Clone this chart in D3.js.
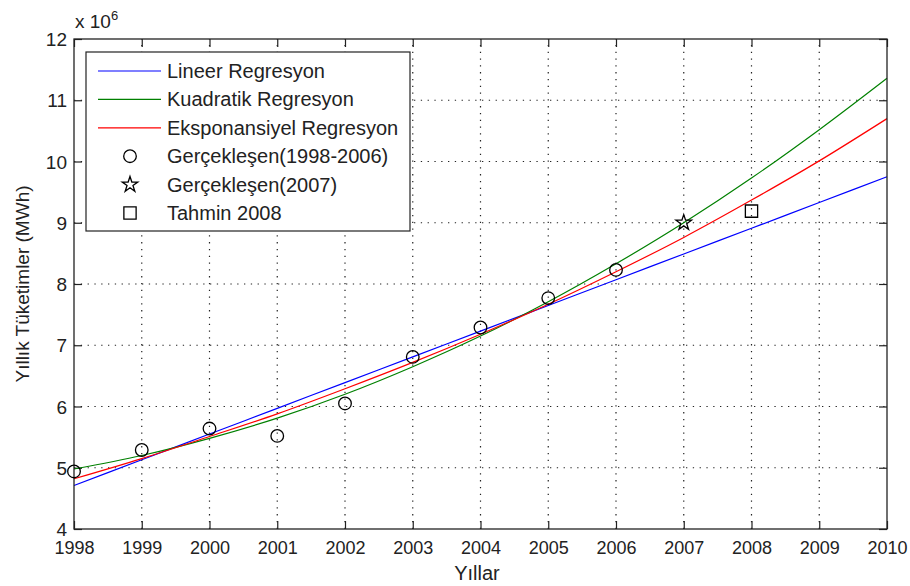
<!DOCTYPE html>
<html><head><meta charset="utf-8">
<script src="https://cdn.jsdelivr.net/npm/d3@7"></script>
<style>body{margin:0;background:#fff;} text{font-family:"Liberation Sans",Arial,sans-serif;fill:#222;}</style>
</head><body>
<svg id="c" width="910" height="586"></svg>
<script>
const years = [1998,1999,2000,2001,2002,2003,2004,2005,2006,2007,2008,2009,2010];
const linearFit = [4.71,5.13,5.55,5.97,6.39,6.81,7.23,7.65,8.07,8.49,8.91,9.33,9.75];
const quadFit   = [4.98,5.20,5.48,5.81,6.20,6.65,7.15,7.71,8.33,9.00,9.73,10.52,11.36];
const expFit    = [4.82,5.15,5.51,5.88,6.29,6.72,7.18,7.67,8.20,8.76,9.37,10.01,10.70];
const actualYears = [1998,1999,2000,2001,2002,2003,2004,2005,2006];
const actualVals  = [4.94,5.29,5.64,5.52,6.05,6.81,7.29,7.77,8.23];
const actual2007 = [2007, 9.00];
const forecast2008 = [2008, 9.19];
const yTicks = [4,5,6,7,8,9,10,11,12];
const legendLabels = ["Lineer Regresyon","Kuadratik Regresyon","Eksponansiyel Regresyon","Gerçekleşen(1998-2006)","Gerçekleşen(2007)","Tahmin 2008"];

const svg = d3.select("#c");
const L=74, R=887, T=39, B=529;
const x = d3.scaleLinear().domain([1998,2010]).range([L,R]);
const y = d3.scaleLinear().domain([4,12]).range([B,T]);
const fs = 18, fsText = 20;

// grid
const g = svg.append("g");
years.slice(1,-1).forEach(v=>{
  g.append("line").attr("x1",x(v)).attr("x2",x(v)).attr("y1",B).attr("y2",T)
   .attr("stroke","#222").attr("stroke-width",1.2).attr("stroke-dasharray","1.3,5.5");
});
yTicks.slice(1,-1).forEach(v=>{
  g.append("line").attr("x1",L).attr("x2",R).attr("y1",y(v)).attr("y2",y(v))
   .attr("stroke","#222").attr("stroke-width",1.2).attr("stroke-dasharray","1.3,5.5");
});

// axes
const xAx = d3.axisBottom(x).tickValues(years).tickFormat(d3.format("d")).tickSizeInner(-8).tickSizeOuter(0).tickPadding(12);
const yAx = d3.axisLeft(y).tickValues(yTicks).tickSizeInner(-8).tickSizeOuter(0).tickPadding(7);
const xg = svg.append("g").attr("transform",`translate(0,${B})`).call(xAx);
const yg = svg.append("g").attr("transform",`translate(${L},0)`).call(yAx);
const xt = svg.append("g").attr("transform",`translate(0,${T})`).call(d3.axisTop(x).tickValues(years).tickFormat("").tickSizeInner(-8).tickSizeOuter(0));
const yr = svg.append("g").attr("transform",`translate(${R},0)`).call(d3.axisRight(y).tickValues(yTicks).tickFormat("").tickSizeInner(-8).tickSizeOuter(0));
[xg,yg,xt,yr].forEach(a=>{a.select(".domain").remove(); a.selectAll("line").attr("stroke","#222").attr("stroke-width",1.2);
  a.selectAll("text").style("font-size",fs+"px").attr("fill","#222");});
yg.selectAll("text").style("font-size","19px").attr("dy","0.35em");

// fit lines
const line = d3.line().x((d,i)=>x(years[i])).y(d=>y(d)).curve(d3.curveMonotoneX);
const fits = [[linearFit,"#0000ff"],[quadFit,"#008000"],[expFit,"#ff0000"]];
fits.forEach(([arr,col])=>{
  svg.append("path").attr("d",line(arr)).attr("fill","none").attr("stroke",col).attr("stroke-width",1.2);
});

// box
svg.append("rect").attr("x",L).attr("y",T).attr("width",R-L).attr("height",B-T)
  .attr("fill","none").attr("stroke","#222").attr("stroke-width",1.3);

// markers
const star = d3.symbol().type(d3.symbolStar).size(75);
const sq = d3.symbol().type(d3.symbolSquare).size(150);
function circ(cx,cy){ svg.append("circle").attr("cx",cx).attr("cy",cy).attr("r",6.3).attr("fill","none").attr("stroke","#000").attr("stroke-width",1.3); }
actualYears.forEach((yr_,i)=>circ(x(yr_),y(actualVals[i])));
svg.append("path").attr("d",star()).attr("transform",`translate(${x(actual2007[0])},${y(actual2007[1])})`).attr("fill","none").attr("stroke","#000").attr("stroke-width",1.3);
svg.append("path").attr("d",sq()).attr("transform",`translate(${x(forecast2008[0])},${y(forecast2008[1])})`).attr("fill","none").attr("stroke","#000").attr("stroke-width",1.3);

// legend
const lg = svg.append("g");
lg.append("rect").attr("x",86).attr("y",52).attr("width",324).attr("height",179).attr("fill","#fff").attr("stroke","#222").attr("stroke-width",1.2);
const rowY = i => 71 + i*28.4;
legendLabels.forEach((lab,i)=>{
  const yy = rowY(i);
  if(i<3){
    lg.append("line").attr("x1",98).attr("x2",161).attr("y1",yy).attr("y2",yy).attr("stroke",fits[i][1]).attr("stroke-width",1.2);
  } else if(i===3){
    lg.append("circle").attr("cx",130).attr("cy",yy).attr("r",6.3).attr("fill","none").attr("stroke","#000").attr("stroke-width",1.3);
  } else if(i===4){
    lg.append("path").attr("d",star()).attr("transform",`translate(130,${yy})`).attr("fill","none").attr("stroke","#000").attr("stroke-width",1.3);
  } else {
    lg.append("path").attr("d",sq()).attr("transform",`translate(130,${yy})`).attr("fill","none").attr("stroke","#000").attr("stroke-width",1.3);
  }
  lg.append("text").attr("x",167).attr("y",yy).attr("dy","0.35em").style("font-size",fsText+"px").text(lab);
});

// labels
svg.append("text").attr("x",477).attr("y",580).attr("text-anchor","middle").style("font-size",fsText+"px").text("Yıllar");
svg.append("text").attr("transform",`translate(29,${(T+B)/2}) rotate(-90)`).attr("text-anchor","middle").style("font-size","19px").text("Yıllık Tüketimler (MWh)");
const ex = svg.append("text").attr("x",75).attr("y",28).style("font-size","19px");
ex.append("tspan").text("x 10");
ex.append("tspan").attr("dy",-8).style("font-size","13px").text("6");
</script>
</body></html>
